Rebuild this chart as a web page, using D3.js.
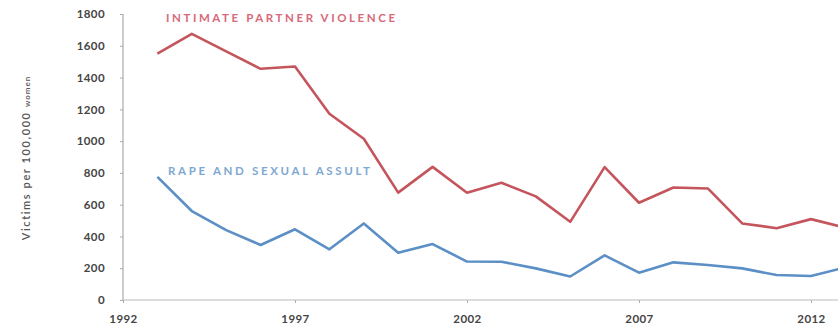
<!DOCTYPE html>
<html>
<head>
<meta charset="utf-8">
<script src="https://cdn.jsdelivr.net/npm/d3@7"></script>
<style>
  html, body { margin: 0; padding: 0; background: #ffffff; }
  svg { display: block; }
  .tick text { font-family: Lato, "Open Sans", sans-serif; font-weight: 700; fill: #444; }
</style>
</head>
<body>
<svg id="chart" width="838" height="331"></svg>
<script>
// ---- data ----
const years = [1993, 1994, 1995, 1996, 1997, 1998, 1999, 2000, 2001, 2002, 2003,
               2004, 2005, 2006, 2007, 2008, 2009, 2010, 2011, 2012, 2013];
const intimatePartnerViolence = [1550, 1675, 1565, 1455, 1470, 1172, 1015, 676, 838, 675, 738,
                                 652, 492, 836, 612, 708, 702, 482, 452, 509, 455];
const rapeSexualAssault = [775, 560, 440, 346, 445, 319, 482, 297, 352, 242, 241,
                           199, 148, 281, 172, 237, 220, 199, 157, 151, 205];
const xTicks = [1992, 1997, 2002, 2007, 2012];
const yTicks = [0, 200, 400, 600, 800, 1000, 1200, 1400, 1600, 1800];
const seriesNames = ["INTIMATE PARTNER VIOLENCE", "RAPE AND SEXUAL ASSULT"];
const yTitle = "Victims per 100,000 ";
const yTitleSmall = "women";

// ---- layout ----
const svg = d3.select("#chart");
const x = d3.scaleLinear().domain([1992, 2012]).range([123, 811]);
const y = d3.scaleLinear().domain([0, 1800]).range([300, 14]);

// axes
const yAxis = d3.axisLeft(y).tickValues(yTicks).tickSize(3).tickPadding(15).tickFormat(d3.format("d"));
const xAxis = d3.axisBottom(x).tickValues(xTicks).tickSize(3).tickPadding(12).tickFormat(d3.format("d"));

const gy = svg.append("g").attr("transform", "translate(123,0)").call(yAxis);
gy.select(".domain").remove();
gy.selectAll(".tick line").attr("stroke", "#aaa");
gy.selectAll(".tick text").attr("font-size", 11.5).attr("letter-spacing", 0.4);
gy.append("line").attr("x1", 0).attr("x2", 0).attr("y1", y(1800)).attr("y2", y(0))
  .attr("stroke", "#aaa").attr("stroke-width", 1.2);

const gx = svg.append("g").attr("transform", "translate(0,300)").call(xAxis);
gx.select(".domain").remove();
gx.selectAll(".tick line").attr("stroke", "#aaa");
gx.selectAll(".tick text").attr("font-size", 11.5).attr("letter-spacing", 0.4);
gx.append("line").attr("x1", x(1992)).attr("x2", 838).attr("y1", 0).attr("y2", 0)
  .attr("stroke", "#bbb").attr("stroke-width", 1.2);

// y-axis title
const t = svg.append("text")
  .attr("transform", "translate(30,158) rotate(-90)")
  .attr("text-anchor", "middle")
  .attr("font-family", "Lato, sans-serif")
  .attr("font-weight", 600)
  .attr("fill", "#555");
t.append("tspan").attr("font-size", 11).attr("letter-spacing", 1.6).text(yTitle);
t.append("tspan").attr("font-size", 8).attr("letter-spacing", 1).text(yTitleSmall);

// lines
const line = d3.line().x((d, i) => x(years[i])).y(d => y(d));
svg.append("path").datum(intimatePartnerViolence)
  .attr("d", line).attr("fill", "none")
  .attr("stroke", "#c5555d").attr("stroke-width", 2.6).attr("stroke-linejoin", "round");
svg.append("path").datum(rapeSexualAssault)
  .attr("d", line).attr("fill", "none")
  .attr("stroke", "#5b8fc6").attr("stroke-width", 2.6).attr("stroke-linejoin", "round");

// series labels
svg.append("text").attr("x", 166).attr("y", 22)
  .attr("font-family", "Lato, sans-serif").attr("font-weight", 700).attr("font-size", 11.5)
  .attr("textLength", 229).attr("lengthAdjust", "spacing")
  .attr("fill", "#d7697a").text(seriesNames[0]);
svg.append("text").attr("x", 168).attr("y", 175)
  .attr("font-family", "Lato, sans-serif").attr("font-weight", 700).attr("font-size", 11.5)
  .attr("textLength", 202).attr("lengthAdjust", "spacing")
  .attr("fill", "#7ea8d3").text(seriesNames[1]);
</script>
</body>
</html>
